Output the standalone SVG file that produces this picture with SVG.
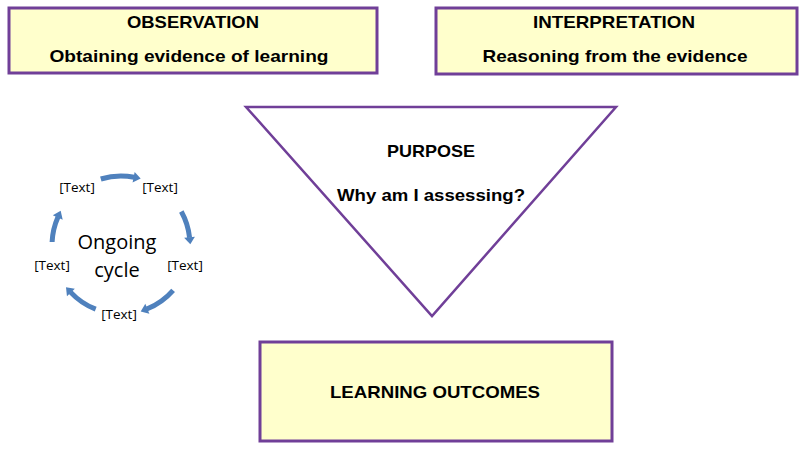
<svg xmlns="http://www.w3.org/2000/svg" width="803" height="453" viewBox="0 0 803 453">
<style>
.box{fill:#ffffcc;stroke:#703f98;stroke-width:3}
.tri{fill:#ffffff;stroke:#703f98;stroke-width:2.5;stroke-linejoin:miter}
.b{font-family:"Liberation Sans",Arial,sans-serif;font-weight:bold;font-size:17px;fill:#000;text-anchor:middle}
.c{font-family:"Open Sans","Liberation Sans",sans-serif;fill:#000;text-anchor:middle}
.arc{fill:none;stroke:#4f81bd;stroke-width:5;marker-end:url(#ah)}
</style>
<defs>
<marker id="ah" markerUnits="userSpaceOnUse" markerWidth="10" markerHeight="12" viewBox="0 -5 6 10" refX="0.5" refY="0" orient="auto">
<path d="M0,-4.5 L6,0 L0,4.5 z" fill="#4f81bd"/>
</marker>
</defs>
<rect width="803" height="453" fill="#ffffff"/>
<g id="observation">
<rect class="box" x="9" y="8" width="368" height="65"/>
<text class="b" x="193" y="28" textLength="132" lengthAdjust="spacingAndGlyphs">OBSERVATION</text>
<text class="b" x="189" y="62" textLength="279" lengthAdjust="spacingAndGlyphs">Obtaining evidence of learning</text>
</g>
<g id="interpretation">
<rect class="box" x="436" y="8" width="361" height="66"/>
<text class="b" x="614" y="28" textLength="162" lengthAdjust="spacingAndGlyphs">INTERPRETATION</text>
<text class="b" x="615" y="62" textLength="265" lengthAdjust="spacingAndGlyphs">Reasoning from the evidence</text>
</g>
<g id="purpose">
<polygon class="tri" points="246,107 616,107 432,316"/>
<text class="b" x="431" y="157" textLength="88" lengthAdjust="spacingAndGlyphs">PURPOSE</text>
<text class="b" x="431" y="201" textLength="188" lengthAdjust="spacingAndGlyphs">Why am I assessing?</text>
</g>
<g id="learning-outcomes">
<rect class="box" x="260" y="342" width="352" height="99"/>
<text class="b" x="435" y="398" textLength="210" lengthAdjust="spacingAndGlyphs">LEARNING OUTCOMES</text>
</g>
<g id="cycle">
<text class="c" x="117" y="249" font-size="20">Ongoing</text>
<text class="c" x="117" y="277" font-size="20">cycle</text>
<text class="c" x="77" y="192" font-size="13.5">[Text]</text>
<text class="c" x="160" y="192" font-size="13.5">[Text]</text>
<text class="c" x="185" y="270" font-size="13.5">[Text]</text>
<text class="c" x="119" y="319" font-size="13.5">[Text]</text>
<text class="c" x="52" y="270" font-size="13.5">[Text]</text>
</g>
<g id="connectors">
<path class="arc" d="M100.8,179 A69,69 0 0 1 134.2,177.3"/>
<path class="arc" d="M181.3,211.5 A69,69 0 0 1 189.6,237.8"/>
<path class="arc" d="M173.1,290.3 A69,69 0 0 1 146.8,309"/>
<path class="arc" d="M95.7,309.2 A69,69 0 0 1 70.5,292.1"/>
<path class="arc" d="M52.1,242 A69,69 0 0 1 58,216.9"/>
</g>
</svg>
